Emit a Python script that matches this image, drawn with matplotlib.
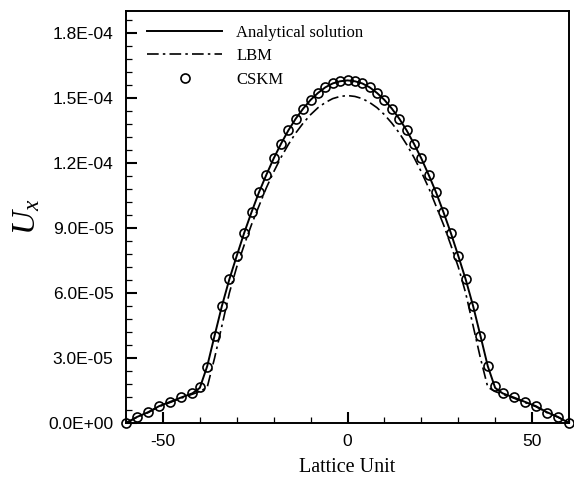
import numpy as np
import matplotlib
matplotlib.use("Agg")
import matplotlib.pyplot as plt
from matplotlib.ticker import MultipleLocator, FormatStrFormatter

plt.rcParams['axes.unicode_minus'] = False
plt.rcParams['mathtext.fontset'] = 'custom'
plt.rcParams['mathtext.it'] = 'Liberation Serif:italic'
plt.rcParams['mathtext.rm'] = 'Liberation Serif'

# lattice positions
x = [-60, -57, -54, -51, -48, -45, -42,
     -40, -38, -36, -34, -32, -30, -28, -26, -24, -22, -20, -18, -16, -14, -12,
     -10, -8, -6, -4, -2, 0, 2, 4, 6, 8, 10,
     12, 14, 16, 18, 20, 22, 24, 26, 28, 30, 32, 34, 36, 38, 40,
     42, 45, 48, 51, 54, 57, 60]

# values in units of 1e-5
analytical = [0.00, 0.28, 0.50, 0.78, 0.98, 1.18, 1.37,
              1.62, 2.62, 4.03, 5.41, 6.63, 7.71, 8.76, 9.72, 10.63, 11.44, 12.20, 12.88, 13.50, 14.04, 14.50,
              14.90, 15.22, 15.48, 15.66, 15.76, 15.80, 15.76, 15.66, 15.48, 15.22, 14.90,
              14.50, 14.04, 13.50, 12.88, 12.20, 11.44, 10.63, 9.72, 8.76, 7.71, 6.63, 5.41, 4.03, 2.62, 1.62,
              1.37, 1.18, 0.98, 0.78, 0.50, 0.28, 0.00]

lbm = [0.00, 0.27, 0.48, 0.76, 0.95, 1.15, 1.33,
       1.45, 1.65, 3.00, 4.50, 6.00, 7.20, 8.20, 9.15, 10.00, 10.84, 11.58, 12.25, 12.85, 13.38, 13.83,
       14.22, 14.54, 14.78, 14.96, 15.06, 15.10, 15.06, 14.96, 14.78, 14.54, 14.22,
       13.83, 13.38, 12.85, 12.25, 11.58, 10.84, 10.00, 9.15, 8.20, 7.20, 6.00, 4.50, 3.00, 1.65, 1.45,
       1.33, 1.15, 0.95, 0.76, 0.48, 0.27, 0.00]

cskm = [0.00, 0.29, 0.49, 0.80, 0.98, 1.20, 1.37,
        1.68, 2.60, 4.03, 5.41, 6.63, 7.71, 8.76, 9.72, 10.63, 11.45, 12.20, 12.88, 13.50, 14.04, 14.50,
        14.90, 15.22, 15.48, 15.66, 15.76, 15.82, 15.76, 15.66, 15.48, 15.22, 14.90,
        14.50, 14.04, 13.50, 12.88, 12.20, 11.44, 10.63, 9.72, 8.76, 7.71, 6.63, 5.41, 4.03, 2.63, 1.72,
        1.37, 1.19, 0.98, 0.78, 0.48, 0.26, 0.00]

scale = 1e-5
labels = ["Analytical solution", "LBM", "CSKM"]

fig = plt.figure(figsize=(5.74, 4.78), dpi=100)
ax = fig.add_axes([126/574, 1-423/478, 443/574, 412/478])

xa = np.array(x)
ax.plot(xa, np.array(analytical)*scale, '-', color='black', lw=1.4, label=labels[0])
ax.plot(xa, np.array(lbm)*scale, color='black', lw=1.2, dashes=(7, 2.5, 1.5, 2.5), label=labels[1])
ax.plot(xa, np.array(cskm)*scale, 'o', ms=6.5, mfc='none', mec='black', mew=1.2, label=labels[2],
        clip_on=False, zorder=5)

ax.set_xlim(-60, 60)
ax.set_ylim(0, 1.9e-4)
ax.xaxis.set_major_locator(MultipleLocator(50))
ax.xaxis.set_minor_locator(MultipleLocator(10))
ax.yaxis.set_major_locator(MultipleLocator(3e-5))
ax.yaxis.set_minor_locator(MultipleLocator(6e-6))
ax.yaxis.set_major_formatter(FormatStrFormatter('%.1E'))

ax.tick_params(which='both', direction='in', top=False, right=False)
ax.tick_params(which='major', length=8, width=1.5)
ax.tick_params(which='minor', length=4, width=0.9)
ax.tick_params(axis='y', which='major', pad=9)
ax.tick_params(axis='x', which='major', pad=8)
for lab in ax.get_xticklabels() + ax.get_yticklabels():
    lab.set_fontfamily('Liberation Sans')
    lab.set_fontsize(12.5)
for s in ax.spines.values():
    s.set_linewidth(1.4)

ax.set_xlabel("Lattice Unit", fontfamily='Liberation Serif', fontsize=14.5)
ax.xaxis.set_label_coords(0.5, -0.085)
ax.set_ylabel("$U_x$", fontsize=24)
ax.yaxis.set_label_coords(-0.19, 0.5)

leg = ax.legend(loc='upper left', bbox_to_anchor=(0.048, 0.967), frameon=False,
                prop={'family': 'Liberation Serif', 'size': 12},
                handlelength=4.5, handletextpad=0.85, labelspacing=0.45,
                borderpad=0, borderaxespad=0, numpoints=1)

fig.savefig("out.png", dpi=100)
